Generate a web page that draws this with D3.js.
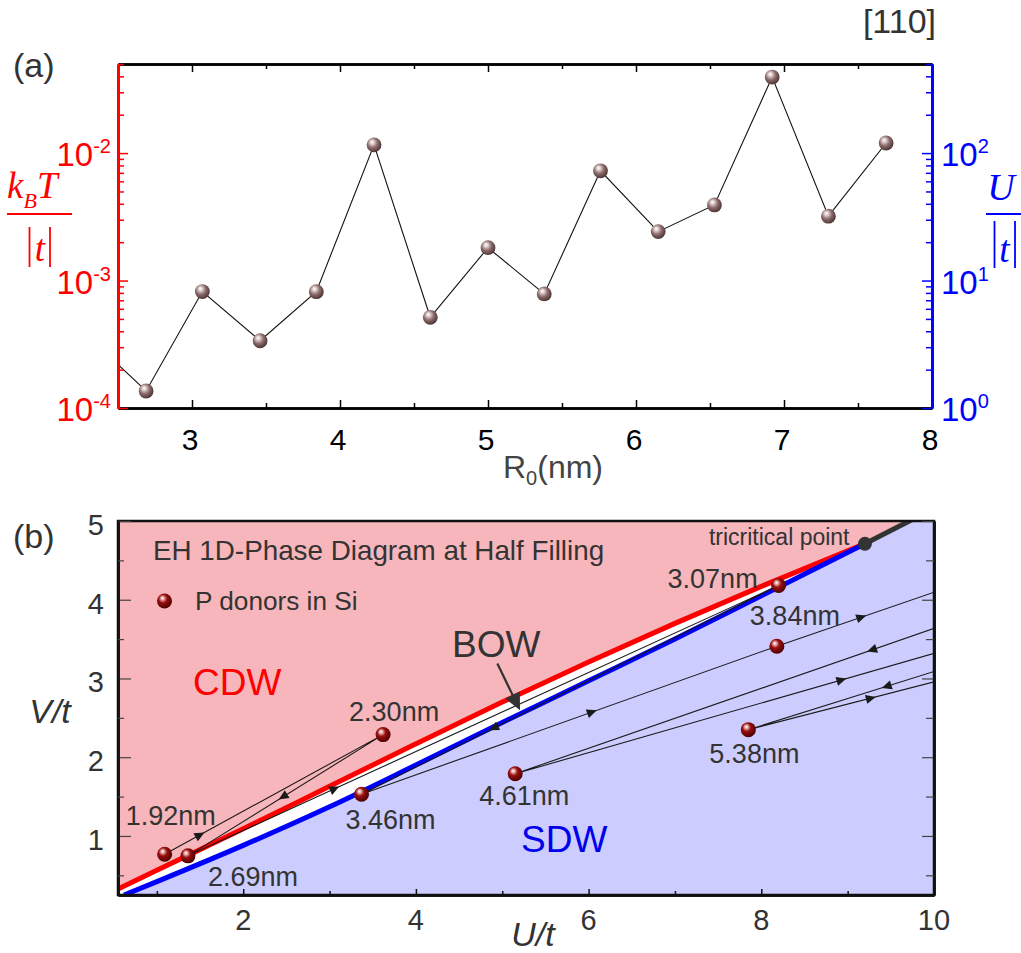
<!DOCTYPE html>
<html>
<head>
<meta charset="utf-8">
<script src="https://cdn.jsdelivr.net/npm/d3@7"></script>
<style>
  body { margin: 0; background: #fff; }
  svg { display: block; }
  text { font-family: "Liberation Sans", Arial, Helvetica, sans-serif; }
  .serif { font-family: "Liberation Serif", "Times New Roman", serif; font-style: italic; }
</style>
</head>
<body>
<svg id="chart" width="1021" height="953"></svg>
<script>
// Donor separation R0 along [110] (nm)
const r0 = [1.92, 2.30, 2.69, 3.07, 3.46, 3.84, 4.23, 4.61, 5.00, 5.38, 5.76, 6.15, 6.53, 6.92, 7.30, 7.69];
// On-site repulsion U/|t| for each separation
const uOverT = [1.09, 3.62, 1.36, 8.2, 3.37, 8.18, 116, 5.15, 18.1, 7.85, 72.6, 24.2, 39.2, 395, 32, 120];
// Nearest-neighbour repulsion V/|t| for the first eleven separations
const vOverT = [0.768, 2.287, 0.747, 4.18, 1.53, 3.41, 44, 1.79, 5.87, 2.35, 20.6];
// Donors annotated in the phase diagram
const labelledR0 = [1.92, 2.30, 2.69, 3.07, 3.46, 3.84, 4.61, 5.38];
// U/t where each trajectory segment carries its direction arrow
const arrowAtU = [1.50, 2.46, 3.06, 4.90, 6.04, 9.16, 9.28, 8.93, 9.45, 9.27];

// CDW–BOW boundary
const cdwBowU = [0.5, 1, 2, 3, 4, 5, 6, 7, 8, 9.2];
const cdwBowV = [0.30, 0.565, 1.09, 1.63, 2.17, 2.70, 3.21, 3.70, 4.17, 4.71];
// SDW–BOW boundary
const sdwBowU = [0.62, 1, 2, 3, 4, 5, 6, 7, 8, 9.2];
const sdwBowV = [0.25, 0.42, 0.88, 1.37, 1.90, 2.44, 2.97, 3.50, 4.05, 4.71];
// Tricritical point and the first-order CDW–SDW line beyond it
const tricritical = [9.2, 4.71];
const firstOrderU = [9.2, 10.0];
const firstOrderV = [4.71, 5.16];

// Tick values
const topXTicks = [3, 4, 5, 6, 7, 8];
const topXMinor = [3.5, 4.5, 5.5, 6.5, 7.5];
const kTMajor = [1e-4, 1e-3, 1e-2];
const uMajor = [1, 10, 100];
const botXTicks = [2, 4, 6, 8, 10];
const botXMinor = [1, 3, 5, 7, 9];
const botYTicks = [1, 2, 3, 4, 5];
const botYMinor = [0.5, 1.5, 2.5, 3.5, 4.5];

const svg = d3.select("#chart");
const defs = svg.append("defs");
const grey = "#333";

function ball(id, stops) {
  const g = defs.append("radialGradient").attr("id", id)
    .attr("cx", "0.42").attr("cy", "0.4").attr("r", "0.62")
    .attr("fx", "0.36").attr("fy", "0.3");
  stops.forEach(s => g.append("stop").attr("offset", s[0]).attr("stop-color", s[1]));
}
ball("ballA", [[0, "#ffffff"], [0.18, "#e6d8d8"], [0.55, "#8c6b6b"], [1, "#4a3232"]]);
ball("ballB", [[0, "#ffffff"], [0.14, "#f0c0c0"], [0.45, "#9a0f0f"], [1, "#480000"]]);

function minorLog(lo, hi) {
  const out = [];
  for (let e = Math.floor(Math.log10(lo)); e <= Math.ceil(Math.log10(hi)); e++) {
    for (let m = 2; m <= 9; m++) {
      const v = m * Math.pow(10, e);
      if (v > lo * 1.0001 && v <= hi * 1.0001) out.push(v);
    }
  }
  return out;
}

function styleAxis(g, color, width) {
  g.select(".domain").attr("stroke", color).attr("stroke-width", width);
  g.selectAll(".tick line").attr("stroke", color).attr("stroke-width", 1.5);
  g.selectAll(".tick text").remove();
}

/* ---------------- panel (a) ---------------- */
const A = { left: 118, right: 932, top: 64, bottom: 408 };
const xA = d3.scaleLinear().domain([2.5, 8]).range([A.left, A.right]);
const yU = d3.scaleLog().domain([1, 500]).range([A.bottom, A.top]);
const yK = d3.scaleLog().domain([1e-4, 5e-2]).range([A.bottom, A.top]);

defs.append("clipPath").attr("id", "clipA").append("rect")
  .attr("x", A.left).attr("y", A.top).attr("width", A.right - A.left).attr("height", A.bottom - A.top);

const gA = svg.append("g");
const ptsA = r0.map((r, i) => ({ r, u: uOverT[i] }));

gA.append("path").datum(ptsA)
  .attr("clip-path", "url(#clipA)")
  .attr("fill", "none").attr("stroke", "#111").attr("stroke-width", 1.1)
  .attr("d", d3.line().x(d => xA(d.r)).y(d => yU(d.u)));

gA.append("g").attr("clip-path", "url(#clipA)")
  .selectAll("circle").data(ptsA).join("circle")
  .attr("cx", d => xA(d.r)).attr("cy", d => yU(d.u)).attr("r", 7.4)
  .attr("fill", "url(#ballA)");

// frame and ticks
[[d3.axisBottom(xA).tickValues(topXTicks).tickSize(-8), A.bottom],
 [d3.axisBottom(xA).tickValues(topXMinor).tickSize(-5), A.bottom],
 [d3.axisTop(xA).tickValues(topXTicks).tickSize(-8), A.top],
 [d3.axisTop(xA).tickValues(topXMinor).tickSize(-5), A.top]].forEach(([ax, y]) => {
  const g = gA.append("g").attr("transform", `translate(0,${y})`).call(ax.tickSizeOuter(0).tickFormat(""));
  styleAxis(g, "#000", 2.5);
});
[[d3.axisLeft(yK).tickValues(kTMajor).tickSize(-10), A.left, "#ff0000"],
 [d3.axisLeft(yK).tickValues(minorLog(1e-4, 5e-2)).tickSize(-6), A.left, "#ff0000"],
 [d3.axisRight(yU).tickValues(uMajor).tickSize(-10), A.right, "#0000ff"],
 [d3.axisRight(yU).tickValues(minorLog(1, 500)).tickSize(-6), A.right, "#0000ff"]].forEach(([ax, x, c]) => {
  const g = gA.append("g").attr("transform", `translate(${x},0)`).call(ax.tickSizeOuter(0).tickFormat(""));
  styleAxis(g, c, 2.8);
});

// x tick labels
gA.selectAll(".xl").data(topXTicks).join("text")
  .attr("x", d => xA(d) - 2).attr("y", A.bottom + 42)
  .attr("text-anchor", "middle").attr("font-size", 30).attr("fill", "#000")
  .text(d => d);

// log tick labels with superscripts
function powerLabel(sel, base, exp, color) {
  sel.attr("fill", color).attr("font-size", 33);
  sel.append("tspan").text(base);
  sel.append("tspan").attr("font-size", 20).attr("dy", -13).text(exp);
}
kTMajor.forEach(v => {
  const t = gA.append("text").attr("x", 111).attr("y", yK(v) + 13).attr("text-anchor", "end");
  powerLabel(t, "10", String(Math.round(Math.log10(v))), "#ff0000");
});
uMajor.forEach(v => {
  const t = gA.append("text").attr("x", 941).attr("y", yU(v) + 13).attr("text-anchor", "start");
  powerLabel(t, "10", String(Math.round(Math.log10(v))), "#0000ff");
});

// axis titles
const kLab = gA.append("text").attr("class", "serif").attr("fill", "#ff0000")
  .attr("x", 7).attr("y", 198).attr("font-size", 37);
kLab.append("tspan").text("k");
kLab.append("tspan").attr("font-size", 22).attr("dy", 10).text("B");
kLab.append("tspan").attr("dy", -10).text("T");
gA.append("line").attr("x1", 7).attr("x2", 72).attr("y1", 214).attr("y2", 214)
  .attr("stroke", "#ff0000").attr("stroke-width", 2);
gA.append("text").attr("class", "serif").attr("fill", "#ff0000").attr("font-size", 37)
  .attr("x", 40).attr("y", 261).attr("text-anchor", "middle").text("t");
[29.5, 50].forEach(x => gA.append("line").attr("x1", x).attr("x2", x).attr("y1", 227).attr("y2", 267)
  .attr("stroke", "#ff0000").attr("stroke-width", 1.8));

gA.append("text").attr("class", "serif").attr("fill", "#0000ff").attr("font-size", 38)
  .attr("x", 1001).attr("y", 200).attr("text-anchor", "middle").text("U");
gA.append("line").attr("x1", 986).attr("x2", 1021).attr("y1", 214).attr("y2", 214)
  .attr("stroke", "#0000ff").attr("stroke-width", 2);
gA.append("text").attr("class", "serif").attr("fill", "#0000ff").attr("font-size", 37)
  .attr("x", 1004.5).attr("y", 262).attr("text-anchor", "middle").text("t");
[994.5, 1015].forEach(x => gA.append("line").attr("x1", x).attr("x2", x).attr("y1", 221).attr("y2", 268)
  .attr("stroke", "#0000ff").attr("stroke-width", 1.8));

const rLab = gA.append("text").attr("x", 553).attr("y", 478).attr("text-anchor", "middle")
  .attr("font-size", 32).attr("fill", "#444");
rLab.append("tspan").text("R");
rLab.append("tspan").attr("font-size", 20).attr("dy", 7).text("0");
rLab.append("tspan").attr("dy", -7).text("(nm)");

gA.append("text").attr("x", 13).attr("y", 77).attr("font-size", 34).attr("fill", grey).text("(a)");
gA.append("text").attr("x", 936).attr("y", 33).attr("text-anchor", "end")
  .attr("font-size", 34).attr("fill", grey).text("[110]");

/* ---------------- panel (b) ---------------- */
const B = { left: 118, right: 934, top: 521, bottom: 895 };
const xB = d3.scaleLinear().domain([0.55, 10]).range([B.left, B.right]);
const yB = d3.scaleLinear().domain([0.25, 5]).range([B.bottom, B.top]);
const [u0, u1] = xB.domain();
const [v0, v1] = yB.domain();

defs.append("clipPath").attr("id", "clipB").append("rect")
  .attr("x", B.left).attr("y", B.top).attr("width", B.right - B.left).attr("height", B.bottom - B.top);

const gB = svg.append("g");
const gClip = gB.append("g").attr("clip-path", "url(#clipB)");
const lineB = d3.line().x(d => xB(d[0])).y(d => yB(d[1]));
const curveB = d3.line().x(d => xB(d[0])).y(d => yB(d[1])).curve(d3.curveMonotoneX);

const redPts = cdwBowU.map((u, i) => [u, cdwBowV[i]]);
const bluePts = sdwBowU.map((u, i) => [u, sdwBowV[i]]);
const firstOrder = firstOrderU.map((u, i) => [u, firstOrderV[i]]);

gClip.append("rect").attr("x", B.left).attr("y", B.top)
  .attr("width", B.right - B.left).attr("height", B.bottom - B.top).attr("fill", "#ffffff");
// CDW region: above the CDW–BOW line and the first-order line
const cdwEdge = curveB(redPts).slice(1);
gClip.append("path").attr("fill", "#f7b6bb")
  .attr("d", `M${xB(u0 - 1)},${yB(v1 + 1)}L${xB(u0 - 1)},${yB(redPts[0][1])}L${cdwEdge}` +
    `L${xB(firstOrder[1][0])},${yB(firstOrder[1][1])}L${xB(u1 + 1)},${yB(firstOrder[1][1] + 0.45)}L${xB(u1 + 1)},${yB(v1 + 1)}Z`);
// SDW region: below the SDW–BOW line and the first-order line
const sdwEdge = curveB(bluePts).slice(1);
gClip.append("path").attr("fill", "#ccccff")
  .attr("d", `M${xB(bluePts[0][0] - 0.5)},${yB(v0 - 1)}L${xB(bluePts[0][0] - 0.5)},${yB(bluePts[0][1] - 0.22)}L${sdwEdge}` +
    `L${xB(firstOrder[1][0])},${yB(firstOrder[1][1])}L${xB(u1 + 1)},${yB(firstOrder[1][1] + 0.45)}L${xB(u1 + 1)},${yB(v0 - 1)}Z`);

gClip.append("path").datum(redPts).attr("fill", "none").attr("stroke", "#ff0000")
  .attr("stroke-width", 5).attr("d", curveB);
gClip.append("path").datum(bluePts).attr("fill", "none").attr("stroke", "#0000ff")
  .attr("stroke-width", 5).attr("d", curveB);
gClip.append("path").datum(firstOrder).attr("fill", "none").attr("stroke", "#333")
  .attr("stroke-width", 5).attr("d", lineB);

// trajectories through consecutive separations
const traj = vOverT.map((v, i) => [uOverT[i], v]);
gClip.append("path").datum(traj).attr("fill", "none").attr("stroke", "#1a1a1a")
  .attr("stroke-width", 1.1).attr("d", lineB);

// direction arrows along each segment
arrowAtU.forEach((ua, i) => {
  const p = traj[i], q = traj[i + 1];
  const t = (ua - p[0]) / (q[0] - p[0]);
  const va = p[1] + t * (q[1] - p[1]);
  const ang = Math.atan2(yB(q[1]) - yB(p[1]), xB(q[0]) - xB(p[0])) * 180 / Math.PI;
  gClip.append("path").attr("d", "M5,0 L-5,-4.6 L-5,4.6 Z").attr("fill", "#1a1a1a")
    .attr("transform", `translate(${xB(ua)},${yB(va)}) rotate(${ang})`);
});

// tricritical point
gClip.append("circle").attr("cx", xB(tricritical[0])).attr("cy", yB(tricritical[1]))
  .attr("r", 7).attr("fill", "#333");

// donors
const donors = labelledR0.map(r => { const i = r0.indexOf(r); return { r, u: uOverT[i], v: vOverT[i] }; });
gClip.selectAll(".donor").data(donors).join("circle")
  .attr("cx", d => xB(d.u)).attr("cy", d => yB(d.v)).attr("r", 7.5).attr("fill", "url(#ballB)");

// donor labels, offsets in pixels from each marker
const labelOffset = { "1.92": [-39, -29], "2.30": [-34, -14], "2.69": [20, 30], "3.07": [-111, 2],
  "3.46": [-16, 35], "3.84": [-27, -21], "4.61": [-36, 31], "5.38": [-39, 33] };
gB.selectAll(".dl").data(donors).join("text")
  .attr("x", d => xB(d.u) + labelOffset[d.r.toFixed(2)][0])
  .attr("y", d => yB(d.v) + labelOffset[d.r.toFixed(2)][1])
  .attr("font-size", 27).attr("fill", grey)
  .text(d => d.r.toFixed(2) + "nm");

gB.append("text").attr("x", xB(tricritical[0]) - 156).attr("y", yB(tricritical[1]) + 1)
  .attr("font-size", 23).attr("fill", grey).text("tricritical point");

// BOW annotation arrow
const bowFrom = [4.943, 3.19], bowTip = [5.206, 2.595];
{
  const x1 = xB(bowFrom[0]), y1 = yB(bowFrom[1]), x2 = xB(bowTip[0]), y2 = yB(bowTip[1]);
  const ang = Math.atan2(y2 - y1, x2 - x1);
  gB.append("line").attr("x1", x1).attr("y1", y1)
    .attr("x2", x2 - 14 * Math.cos(ang)).attr("y2", y2 - 14 * Math.sin(ang))
    .attr("stroke", "#333").attr("stroke-width", 2.2);
  gB.append("path").attr("d", "M0,0 L-17,-8 L-17,8 Z").attr("fill", "#333")
    .attr("transform", `translate(${x2},${y2}) rotate(${ang * 180 / Math.PI})`);
}

gB.append("text").attr("x", 452).attr("y", 657).attr("font-size", 37).attr("fill", grey).text("BOW");
gB.append("text").attr("x", 193).attr("y", 695).attr("font-size", 37).attr("fill", "#ff0000").text("CDW");
gB.append("text").attr("x", 521).attr("y", 852).attr("font-size", 37).attr("fill", "#0000ee").text("SDW");

gB.append("text").attr("x", 153).attr("y", 560).attr("font-size", 27.8).attr("fill", grey)
  .text("EH 1D-Phase Diagram at Half Filling");
gB.append("circle").attr("cx", 164.5).attr("cy", 601).attr("r", 7.5).attr("fill", "url(#ballB)");
gB.append("text").attr("x", 195).attr("y", 610).attr("font-size", 26.2).attr("fill", grey).text("P donors in Si");

// frame and ticks
gB.append("rect").attr("x", B.left).attr("y", B.top).attr("width", B.right - B.left)
  .attr("height", B.bottom - B.top).attr("fill", "none").attr("stroke", "#111").attr("stroke-width", 2.5);
[[d3.axisBottom(xB).tickValues(botXTicks).tickSize(-6), B.bottom],
 [d3.axisBottom(xB).tickValues(botXMinor).tickSize(-4), B.bottom]].forEach(([ax, y]) => {
  const g = gB.append("g").attr("transform", `translate(0,${y})`).call(ax.tickSizeOuter(0).tickFormat(""));
  styleAxis(g, "#111", 2.5);
});
[[d3.axisLeft(yB).tickValues(botYTicks).tickSize(-13), B.left],
 [d3.axisLeft(yB).tickValues(botYMinor).tickSize(-6), B.left],
 [d3.axisRight(yB).tickValues(botYTicks).tickSize(-12), B.right],
 [d3.axisRight(yB).tickValues(botYMinor).tickSize(-8), B.right]].forEach(([ax, x]) => {
  const g = gB.append("g").attr("transform", `translate(${x},0)`).call(ax.tickSizeOuter(0).tickFormat(""));
  styleAxis(g, "#111", 2.5);
  g.selectAll(".tick line").attr("stroke", "#444").attr("stroke-width", 1.2);
});
gB.selectAll(".bx").data(botXTicks).join("text")
  .attr("x", d => xB(d)).attr("y", B.bottom + 35).attr("text-anchor", "middle")
  .attr("font-size", 29).attr("fill", grey).text(d => d);
gB.selectAll(".by").data(botYTicks).join("text")
  .attr("x", 104).attr("y", d => yB(d) + 14).attr("text-anchor", "end")
  .attr("font-size", 29).attr("fill", grey).text(d => d);

gB.append("text").attr("x", 50).attr("y", 723).attr("text-anchor", "middle")
  .attr("font-size", 34).attr("font-style", "italic").attr("fill", grey).text("V/t");
gB.append("text").attr("x", 533).attr("y", 946).attr("text-anchor", "middle")
  .attr("font-size", 34).attr("font-style", "italic").attr("fill", grey).text("U/t");
gB.append("text").attr("x", 13).attr("y", 548).attr("font-size", 34).attr("fill", grey).text("(b)");
</script>
</body>
</html>
